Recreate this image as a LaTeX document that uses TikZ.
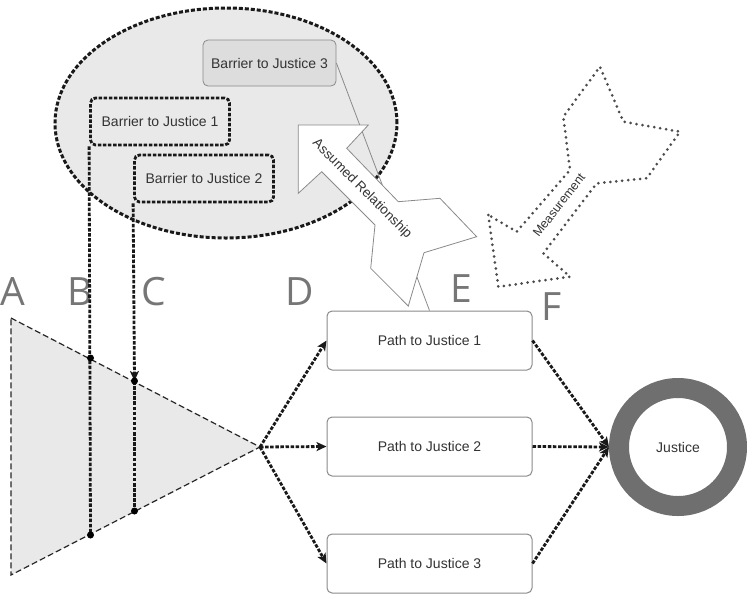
\documentclass[tikz,border=0pt]{standalone}
\usepackage{fontspec}
\setmainfont{Liberation Sans}
\newfontfamily\letterfont{Open Sans}
\usetikzlibrary{shapes.geometric,arrows.meta}
\definecolor{txt}{HTML}{333333}
\definecolor{ellfill}{HTML}{E9E9E9}
\definecolor{b3fill}{HTML}{DDDDDD}
\definecolor{boxline}{HTML}{8A8A8A}
\definecolor{lettergray}{HTML}{767676}
\definecolor{ringgray}{HTML}{6F6F6F}
\tikzset{
  lbl/.style={font=\fontsize{14}{16}\selectfont, text=txt},
  thickdash/.style={line width=2.8pt, dash pattern=on 3.5pt off 1.6pt, draw=black!90},
  darrow/.style={thickdash, -{Stealth[length=10pt,width=9pt,inset=2.5pt]}},
  barrierbox/.style={lbl, rectangle, rounded corners=5pt, minimum width=139pt, minimum height=47pt, inner sep=0pt, line width=2.8pt, dash pattern=on 3.5pt off 1.6pt, draw=black!90},
  pathbox/.style={lbl, rectangle, rounded corners=5pt, minimum width=205pt, minimum height=59pt, inner sep=0pt, draw=boxline, line width=1pt, fill=white},
  letter/.style={font=\letterfont\fontsize{39}{40}\selectfont, text=lettergray, anchor=base, inner sep=0pt},
  jdot/.style={circle, fill=black, inner sep=0pt, minimum size=7pt},
  blockarrow/.style={draw=boxline, line width=0.8pt, fill=white, line join=miter},
  dotarrow/.style={draw=black!70, line width=3pt, dash pattern=on 0pt off 6pt, line cap=round, line join=round}
}
\begin{document}
\begin{tikzpicture}[x=1pt,y=-1pt]
\useasboundingbox (0,0) rectangle (747,598);

% ellipse with barriers
\node[ellipse, minimum width=342pt, minimum height=230pt, fill=ellfill, line width=3pt, dash pattern=on 4pt off 2pt, draw=black!90] (ell) at (226,123) {};
\node[lbl, rectangle, rounded corners=5pt, minimum width=133pt, minimum height=46pt, inner sep=0pt, fill=b3fill, draw=boxline, line width=0.8pt] (b3) at (269.5,63) {Barrier to Justice 3};
\node[barrierbox] (b1) at (160,121.5) {Barrier to Justice 1};
\node[barrierbox] (b2) at (204,178.5) {Barrier to Justice 2};

% triangle
\coordinate (tA) at (11,318);
\coordinate (tB) at (11,575);
\coordinate (apex) at (260,447);
\draw[fill=ellfill, draw=black!85, line width=1.2pt, dash pattern=on 6pt off 3pt] (tA) -- (apex) -- (tB) -- cycle;

% letters
\node[letter] (lA) at (13,305) {A};
\node[letter] (lB) at (80.5,305) {B};
\node[letter] (lC) at (154,305) {C};
\node[letter] (lD) at (299.5,305) {D};
\node[letter] (lE) at (461,302) {E};
\node[letter] (lF) at (551.5,320) {F};

% barrier verticals
\coordinate (btop) at (90.5,358);
\coordinate (bbot) at (90.5,535);
\coordinate (ctop) at (134.5,381);
\coordinate (cbot) at (134.5,511);
\draw[thickdash] (b1.south west) -- (bbot);
\draw[darrow] (b2.south west) -- (ctop);
\draw[thickdash] (ctop) -- (cbot);
\node[jdot] (d1) at (btop) {};
\node[jdot] (d2) at (bbot) {};
\node[jdot] (d3) at (ctop) {};
\node[jdot] (d4) at (cbot) {};

% paths
\node[pathbox] (p1) at (429.5,340.5) {Path to Justice 1};
\node[pathbox] (p2) at (429.5,446.5) {Path to Justice 2};
\node[pathbox] (p3) at (429.5,563.5) {Path to Justice 3};

% justice ring
\node[lbl, circle, minimum size=118pt, inner sep=0pt, draw=ringgray, line width=20pt] (jus) at (678,447) {Justice};

% connectors
\draw[darrow] (apex) -- (p1.west);
\draw[darrow] (apex) -- (p2.west);
\draw[darrow] (apex) -- (p3.west);
\draw[darrow] (p1.east) -- (jus.west);
\draw[darrow] (p2.east) -- (jus.west);
\draw[darrow] (p3.east) -- (jus.west);

% assumed relationship connector and block arrow
\draw[draw=boxline, line width=0.8pt] (b3.east) -- (p1.north);
\draw[blockarrow] (298.3,125) -- (368.3,125) -- (346.7,148.3) -- (398.3,201.7) -- (440,198.3) -- (476.7,236.7) -- (424,252.7) -- (408.3,306) -- (370.7,268.3) -- (375,225) -- (321.7,171.7) -- (298.3,193.3) -- cycle;
\node[lbl, rotate=-45, font=\fontsize{13.5}{16}\selectfont] (arl) at (362,189) {Assumed Relationship};

% measurement arrow
\draw[dotarrow] (488.3,215) -- (498.3,286.7) -- (570,276.7) -- (543.3,253.3) -- (596.7,183.3) -- (646.7,178.3) -- (680,131.7) -- (623.3,121.7) -- (600,66.7) -- (563.3,116.7) -- (570,170) -- (516.7,231.7) -- cycle;
\node[lbl, rotate=52, font=\fontsize{12.5}{14}\selectfont] (ml) at (559,205) {Measurement};
\end{tikzpicture}
\end{document}
